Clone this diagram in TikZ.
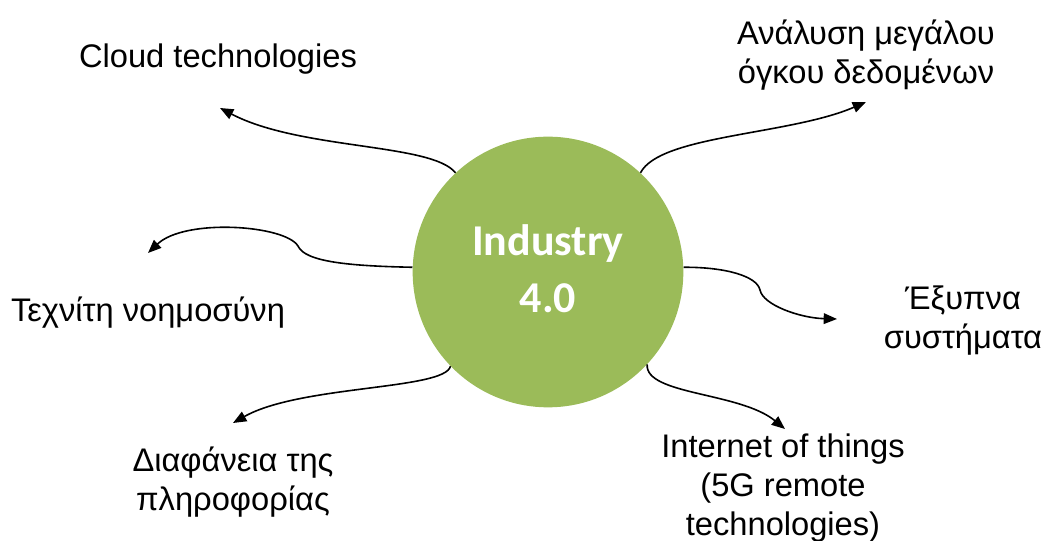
\documentclass[tikz,border=0pt]{standalone}
\usepackage{fontspec}
\setmainfont{Liberation Sans}
\newfontfamily\hubfont{Carlito}
\usepackage{xcolor}
\definecolor{hubgreen}{HTML}{9BBB59}
\usetikzlibrary{arrows.meta}

\begin{document}
\begin{tikzpicture}[x=0.75pt, y=-0.75pt,
  hub/.style={circle, fill=hubgreen, minimum size=203pt, inner sep=0pt},
  hubtext/.style={text=white, align=center, inner sep=0pt, font=\hubfont\bfseries\fontsize{33}{42.75}\selectfont},
  topic/.style={align=center, inner sep=0pt, font=\fontsize{24.5}{29.25}\selectfont},
  link/.style={-{Triangle[length=10pt, width=8pt]}, line width=1.2pt}]
\useasboundingbox (0,0) rectangle (1047,541);

\node[hub] (hub) at (548,272) {};
\node[hubtext] (title) at (548,269) {Industry\\4.0};

\node[topic] (cloud) at (218,59.5) {Cloud technologies};
\node[topic] (bigdata) at (866,55) {Ανάλυση μεγάλου\\όγκου δεδομένων};
\node[topic] (ai) at (148,313) {Τεχνίτη νοημοσύνη};
\node[topic] (smart) at (963,321) {Έξυπνα\\συστήματα};
\node[topic] (trans) at (233,482) {Διαφάνεια της\\πληροφορίας};
\node[topic] (iot) at (783,488) {Internet of things\\(5G remote\\technologies)};

\coordinate (cloud-in) at (220,108);
\coordinate (bigdata-in) at (866,102);
\coordinate (ai-in) at (148,253);
\coordinate (smart-in) at (837,319);
\coordinate (trans-in) at (233,423);
\coordinate (iot-in) at (785,429);

\draw[link] (hub.133) .. controls (432,143) and (300,150) .. (cloud-in);
\draw[link] (hub.47) .. controls (660,135) and (790,135) .. (bigdata-in);
\draw[link] (hub.178) .. controls (350,266) and (305,262) .. (298,246)
  .. controls (285,225) and (185,218) .. (ai-in);
\draw[link] (hub.2) .. controls (725,267) and (757,276) .. (760,290)
  .. controls (763,305) and (800,318) .. (smart-in);
\draw[link] (hub.224) .. controls (445,390) and (300,385) .. (trans-in);
\draw[link] (hub.317) .. controls (645,395) and (740,392) .. (iot-in);
\end{tikzpicture}
\end{document}
